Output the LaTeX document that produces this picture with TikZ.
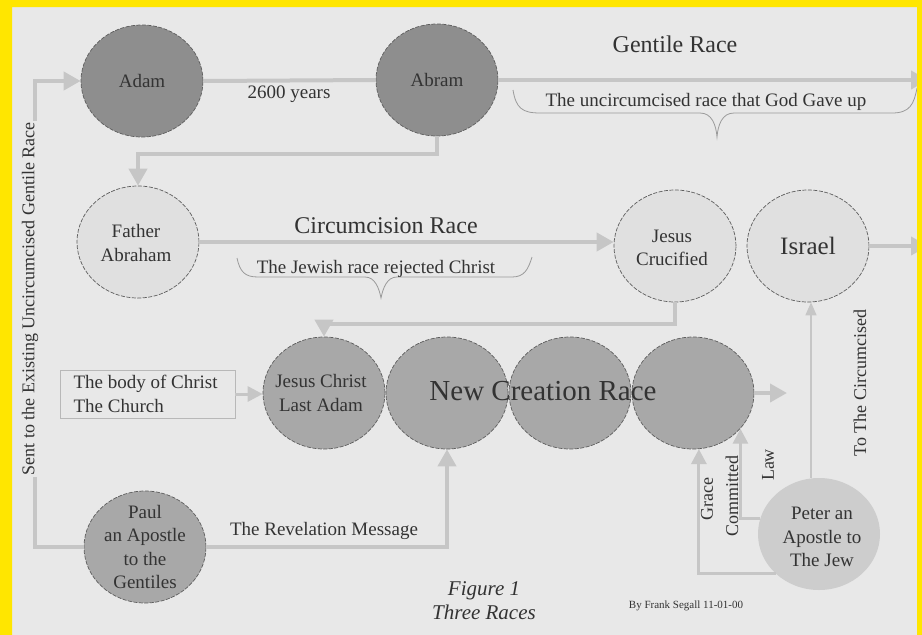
\documentclass[tikz,border=0pt]{standalone}
\usepackage{fontspec}
\setmainfont{Liberation Serif}
\usetikzlibrary{shapes.geometric,arrows.meta,calc}
\definecolor{paper}{HTML}{E8E8E8}
\definecolor{ybord}{HTML}{FFE600}
\definecolor{darkfill}{HTML}{8E8E8E}
\definecolor{midfill}{HTML}{A8A8A8}
\definecolor{lightfill}{HTML}{E0E0E0}
\definecolor{peterfill}{HTML}{CDCDCD}
\definecolor{conn}{HTML}{C6C6C6}
\definecolor{ink}{HTML}{333333}
\definecolor{rim}{HTML}{5E5E5E}
\definecolor{bracec}{HTML}{9A9A9A}
\definecolor{boxrim}{HTML}{B8B8B8}
\begin{document}
\begin{tikzpicture}[x=1pt,y=-1pt,
  every node/.style={text=ink, font=\fontsize{19}{23.5}\selectfont, align=center},
  disc/.style={ellipse, inner sep=0pt, minimum width=122pt, minimum height=112pt,
               draw=rim, dash pattern=on 4pt off 1.5pt, line width=0.7pt},
  darkdisc/.style={disc, fill=darkfill},
  middisc/.style={disc, fill=midfill},
  lightdisc/.style={disc, fill=lightfill},
  link/.style={draw=conn, line width=4pt},
  arr/.style={link, -{Triangle[length=17pt,width=18pt]}},
  smallarr/.style={draw=conn, line width=3pt, -{Triangle[length=15pt,width=15pt]}},
  thinarr/.style={draw=conn, line width=1.6pt, -{Triangle[length=13pt,width=11pt]}},
  bracestyle/.style={draw=bracec, line width=0.8pt},
  bigtext/.style={font=\fontsize{24}{28}\selectfont},
  sidetext/.style={rotate=90, font=\fontsize{18}{21}\selectfont}
]
\useasboundingbox (0,0) rectangle (922,635);
% background
\fill[ybord] (0,0) rectangle (922,635);
\fill[paper] (12,7) rectangle (917,635);

% discs
\node[darkdisc] (adam) at (142,81) {};
\node[darkdisc] (abram) at (437,80) {};
\node[lightdisc] (fabr) at (138,242) {};
\node[lightdisc] (jcruc) at (675,246) {};
\node[lightdisc] (israel) at (808,246) {};
\node[middisc] (jc) at (324,393) {};
\node[middisc] (nc2) at (447,393) {};
\node[middisc] (nc3) at (570,393) {};
\node[middisc] (nc4) at (693,393) {};
\node[middisc] (paul) at (145,547) {};
\node[disc, draw=none, fill=peterfill] (peter) at (819,534) {};

% body box
\node[draw=boxrim, line width=0.9pt, minimum width=175pt, minimum height=48pt, inner sep=0pt] (body) at (147.5,394) {};

% connectors
\coordinate (gentEnd) at (928,0);
\coordinate (leftLine) at (35,0);
\coordinate (ncEnd) at (787,0);
\coordinate (toIsr) at (811,0);
\draw[link] (adam.east) -- (abram.west);
\draw[arr] (abram.east) -- (abram.east -| gentEnd);
\draw[arr] (abram.south) -- ++(0,18) -| (fabr.north);
\draw[arr] (paul.west) -| (leftLine |- adam.west) -- (adam.west);
\draw[arr] (fabr.east) -- (fabr.east -| jcruc.west);
\draw[arr] (jcruc.south) -- ++(0,22) -| (jc.north);
\draw[arr] (israel.east) -- (israel.east -| gentEnd);
\draw[smallarr] (body.east) -- (body.east -| jc.west);
\draw[arr] (nc4.east) -- (nc4.east -| ncEnd);
\draw[arr] (paul.east) -| (nc2.south);
\draw[smallarr] (peter.south west) -| (nc4.-84);
\draw[smallarr] (peter.165) -| (nc4.-37);
\draw[thinarr] (toIsr |- peter.north) -- (toIsr |- israel.south);

% braces
\draw[bracestyle] (513,90) .. controls (516,108) and (522,113) .. (540,113) -- (700,113)
  .. controls (712,113) and (716,125) .. (717,137)
  .. controls (718,125) and (722,113) .. (734,113) -- (892,113)
  .. controls (910,113) and (914,104) .. (917,88);
\draw[bracestyle] (237,258) .. controls (240,272) and (245,277) .. (258,277) -- (365,277)
  .. controls (375,277) and (379,288) .. (381,298)
  .. controls (383,288) and (387,277) .. (397,277) -- (512,277)
  .. controls (524,277) and (528,270) .. (532,257);

% disc texts
\node (adamT) at (adam) {Adam};
\node (abramT) at (abram) {Abram};
\node (fabrT) at (136,243) {Father\\Abraham};
\node (jcrucT) at (672,248) {Jesus\\Crucified};
\node[font=\fontsize{25}{28}\selectfont] (israelT) at (808,246) {Israel};
\node (jcT) at (321,393) {Jesus Christ\\Last Adam};
\node[font=\fontsize{29}{32}\selectfont] (ncrT) at (543,391) {New Creation Race};
\node (paulT) at (145,547) {Paul\\an Apostle\\to the\\Gentiles};
\node (peterT) at (822,537) {Peter an\\Apostle to\\The Jew};
\node[align=left, anchor=west] (bodyT) at (70,394) {The body of Christ\\The Church};

% labels
\node (yearsT) at (289,94) {2600 years};
\node[bigtext] (gentT) at (675,44) {Gentile Race};
\node (uncT) at (706,102) {The uncircumcised race that God Gave up};
\node[bigtext] (circT) at (386,226) {Circumcision Race};
\node (jewT) at (376,269) {The Jewish race rejected Christ};
\node (revT) at (324,531) {The Revelation Message};
\node[sidetext, fill=paper, inner sep=1.5pt] (sentT) at (30,299) {Sent to the Existing Uncircumcised Gentile Race};
\node[sidetext] (toCircT) at (860,383) {To The Circumcised};
\node[sidetext] (graceT) at (707,499) {Grace};
\node[sidetext] (commitT) at (732,496) {Committed};
\node[sidetext] (lawT) at (768,465) {Law};
\node[font=\itshape\fontsize{21}{24}\selectfont] (figT) at (484,601) {Figure 1\\Three Races};
\node[font=\fontsize{11}{13}\selectfont] (byT) at (686,606) {By Frank Segall 11-01-00};

% frame on top
\fill[ybord, even odd rule] (0,0) rectangle (922,635) (12,7) rectangle (917,635);
\end{tikzpicture}
\end{document}
